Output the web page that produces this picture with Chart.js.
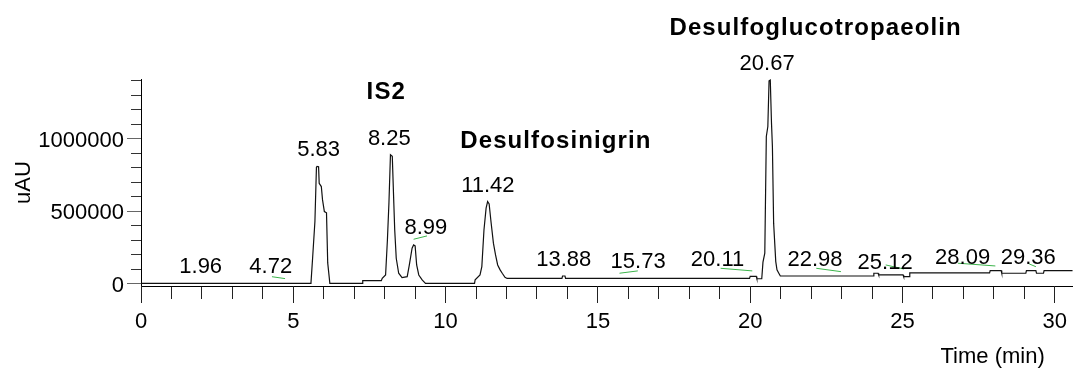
<!DOCTYPE html>
<html>
<head>
<meta charset="utf-8">
<script src="https://cdn.jsdelivr.net/npm/chart.js@4/dist/chart.umd.min.js"></script>
<style>
  html, body { margin: 0; padding: 0; background: #fff; }
  #wrap { width: 1077px; height: 369px; }
</style>
</head>
<body>
<div id="wrap"><canvas id="c" width="1077" height="369"></canvas></div>
<script>
// Chromatogram trace: retention time (min) and detector response (uAU)
const times = [
  0, 5.55, 5.58, 5.63, 5.71, 5.76, 5.78, 5.83, 5.85, 5.92, 5.96, 6.02, 6.09, 6.13, 6.20,
  7.26, 7.28, 7.89, 7.92, 8.03, 8.09, 8.14, 8.19, 8.25, 8.30, 8.33, 8.38, 8.46, 8.57, 8.74,
  8.81, 8.90, 8.95, 9.00, 9.05, 9.12, 9.23, 9.34,
  10.95, 10.97, 11.13, 11.19, 11.26, 11.33, 11.38, 11.43, 11.49, 11.57, 11.64, 11.71, 11.79, 11.86, 11.95, 12.02,
  13.82, 13.84, 13.92, 13.94,
  19.98, 20.00, 20.20, 20.22, 20.38, 20.42, 20.48, 20.53, 20.58, 20.62, 20.66, 20.70, 20.73, 20.77, 20.84, 20.88, 20.94, 20.99,
  24.04, 24.06, 24.20, 24.22, 25.02, 25.04, 25.22, 25.24, 27.86, 27.88, 28.24, 28.26,
  29.05, 29.07, 29.38, 29.40, 29.63, 29.65, 30.59
];
const signal = [
  4000, 4000, 6000, 165000, 430000, 805000, 810000, 808000, 694000, 671000, 579000, 499000, 490000, 145000, 4000,
  4000, 23000, 23000, 39000, 62000, 303000, 558000, 890000, 880000, 558000, 372000, 177000, 74000, 44000, 50000,
  131000, 246000, 269000, 262000, 131000, 62000, 28000, 4000,
  4000, 28000, 62000, 120000, 372000, 522000, 568000, 552000, 430000, 281000, 200000, 131000, 97000, 74000, 46000, 38000,
  38000, 55000, 55000, 38000,
  38000, 52000, 52000, 36000, 36000, 150000, 212000, 1016000, 1085000, 1400000, 1405000, 1108000, 947000, 419000, 154000, 97000, 74000, 55000,
  55000, 74000, 74000, 62000, 62000, 50000, 50000, 76000, 76000, 92000, 92000, 74000,
  74000, 92000, 92000, 74000, 74000, 92000, 92000
];

// Retention times annotated on the trace
const peakTimes = [1.96, 4.72, 5.83, 8.25, 8.99, 11.42, 13.88, 15.73, 20.11, 20.67, 22.98, 25.12, 28.09, 29.36];

// Integration baselines: [start time, end time] and [start value, end value]
const baseTimes = [[4.30, 4.73], [8.95, 9.39], [15.71, 16.31], [19.03, 20.07], [22.17, 22.98], [24.45, 25.05], [26.82, 28.05], [29.16, 29.38]];
const baseValues = [[50000, 37000], [308000, 331000], [74000, 90000], [108000, 90000], [108000, 85000], [131000, 103000], [143000, 124000], [138000, 119000]];

// Identified compounds and the peak each belongs to
const compoundNames = ['IS2', 'Desulfosinigrin', 'Desulfoglucotropaeolin'];
const compoundPeaks = [8.25, 11.42, 20.67];

// Axis ticks
const xTickValues = Array.from({ length: 31 }, (_, i) => i);
const yTickValues = Array.from({ length: 15 }, (_, i) => i * 100000);
const xLabelStep = 5;
const yLabelStep = 500000;

// ---- layout / styling ----
const FONT = '"Liberation Sans", Arial, sans-serif';
// pixel nudges that keep the retention-time labels clear of each other
const labelNudge = [
  { dx: 0, dy: 0 }, { dx: -14, dy: 0 }, { dx: 0, dy: 0 }, { dx: -3, dy: 0 }, { dx: 11, dy: -1 },
  { dx: -1, dy: 0 }, { dx: 0, dy: 0 }, { dx: 18, dy: 0 }, { dx: -36, dy: 0 }, { dx: -3.5, dy: 0 },
  { dx: -26, dy: 0 }, { dx: -21, dy: 2 }, { dx: -34, dy: 3 }, { dx: -7, dy: 3 }
];
const nameOffsets = [{ dx: -6, dy: 46 }, { dx: 67, dy: 44 }, { dx: 45, dy: 35 }];

const traceData = times.map((t, i) => ({ x: t, y: signal[i] }));
const baseSets = baseTimes.map((ts, i) => ({
  data: [{ x: ts[0], y: baseValues[i][0] }, { x: ts[1], y: baseValues[i][1] }],
  borderColor: '#3cb44b',
  borderWidth: 1,
  pointRadius: 0,
  tension: 0,
  order: 0
}));

function peakTop(t) {
  let best = -Infinity;
  for (let i = 0; i < times.length; i++) {
    if (Math.abs(times[i] - t) <= 0.1) best = Math.max(best, signal[i]);
  }
  for (let i = 0; i < times.length - 1; i++) {
    if (times[i] <= t && times[i + 1] >= t) {
      const f = (t - times[i]) / (times[i + 1] - times[i]);
      best = Math.max(best, signal[i] + f * (signal[i + 1] - signal[i]));
      break;
    }
  }
  return best;
}

function alignPx(p) { return Math.round(p - 0.5) + 0.5; }

const annotations = {
  id: 'annotations',
  afterDraw(chart) {
    const { ctx, chartArea, scales } = chart;
    const x = scales.x, y = scales.y;
    ctx.save();

    // longer marks for labelled ticks
    ctx.strokeStyle = '#222';
    ctx.lineWidth = 1;
    xTickValues.forEach(v => {
      if (v % xLabelStep !== 0) return;
      const px = alignPx(x.getPixelForValue(v));
      ctx.beginPath();
      ctx.moveTo(px, chartArea.bottom);
      ctx.lineTo(px, chartArea.bottom + 17);
      ctx.stroke();
    });
    ctx.strokeStyle = '#666';
    yTickValues.forEach(v => {
      if (v % yLabelStep !== 0) return;
      const py = alignPx(y.getPixelForValue(v));
      ctx.beginPath();
      ctx.moveTo(chartArea.left - 14, py);
      ctx.lineTo(chartArea.left, py);
      ctx.stroke();
    });

    // retention time labels
    ctx.fillStyle = '#000';
    ctx.font = '22px ' + FONT;
    ctx.textAlign = 'center';
    ctx.textBaseline = 'alphabetic';
    const anchor = {};
    peakTimes.forEach((t, i) => {
      const px = x.getPixelForValue(t);
      const py = y.getPixelForValue(peakTop(t)) - 10;
      anchor[t] = { px, py };
      ctx.fillText(t.toFixed(2), px + labelNudge[i].dx, py + labelNudge[i].dy);
    });

    // compound names
    ctx.font = 'bold 24px ' + FONT;
    if ('letterSpacing' in ctx) ctx.letterSpacing = '1.1px';
    compoundNames.forEach((name, i) => {
      const p = anchor[compoundPeaks[i]];
      ctx.fillText(name, p.px + nameOffsets[i].dx, p.py - nameOffsets[i].dy);
    });
    if ('letterSpacing' in ctx) ctx.letterSpacing = '0px';

    // axis titles
    ctx.font = '22px ' + FONT;
    ctx.textAlign = 'right';
    ctx.fillText('Time (min)', chartArea.right - 28, chart.height - 6);

    ctx.translate(24, (chartArea.top + chartArea.bottom) / 2);
    ctx.rotate(-Math.PI / 2);
    ctx.textAlign = 'center';
    ctx.textBaseline = 'middle';
    ctx.fillText('uAU', 0, 0);

    ctx.restore();
  }
};

new Chart(document.getElementById('c'), {
  type: 'line',
  data: {
    datasets: [{
      data: traceData,
      borderColor: '#111',
      borderWidth: 1.2,
      pointRadius: 0,
      tension: 0,
      order: 1
    }, ...baseSets]
  },
  options: {
    responsive: false,
    animation: false,
    devicePixelRatio: 1,
    layout: { padding: { top: 79, right: 0, left: 0, bottom: 0 } },
    plugins: { legend: { display: false }, tooltip: { enabled: false } },
    scales: {
      x: {
        type: 'linear',
        min: 0,
        max: 30.59,
        afterBuildTicks: s => { s.ticks = xTickValues.map(v => ({ value: v })); },
        afterFit: s => { s.height = 83; },
        ticks: {
          autoSkip: false,
          maxRotation: 0,
          padding: 10,
          color: '#000',
          font: { family: FONT, size: 22 },
          callback: v => (v % xLabelStep === 0 ? String(v) : '')
        },
        grid: { drawOnChartArea: false, drawTicks: true, tickLength: 13, tickColor: '#222' },
        border: { display: true, color: '#000', width: 1 }
      },
      y: {
        type: 'linear',
        min: -14000,
        max: 1412000,
        afterBuildTicks: s => { s.ticks = yTickValues.map(v => ({ value: v })); },
        afterFit: s => { s.width = 141; },
        ticks: {
          autoSkip: false,
          padding: 7,
          labelOffset: 2,
          color: '#000',
          font: { family: FONT, size: 22 },
          callback: v => (v % yLabelStep === 0 ? String(v) : '')
        },
        grid: { drawOnChartArea: false, drawTicks: true, tickLength: 10, tickColor: '#333' },
        border: { display: true, color: '#000', width: 1 }
      }
    }
  },
  plugins: [annotations]
});
</script>
</body>
</html>
